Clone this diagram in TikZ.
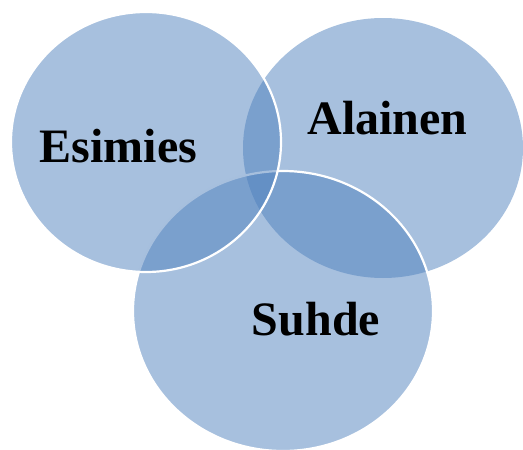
\documentclass[tikz,border=0pt]{standalone}
\usepackage{fontspec}
\setmainfont{Liberation Serif}
\definecolor{accent}{RGB}{79,129,189}
\begin{document}
\begin{tikzpicture}[x=1pt,y=-1pt,
  venn/.style={fill=accent,fill opacity=0.5,draw=white,line width=2.2pt},
  vennplain/.style={fill=accent,fill opacity=0.5,draw=none},
  lbl/.style={anchor=base,font=\fontsize{48}{48}\selectfont\bfseries,text=black,inner sep=0pt}]
\useasboundingbox (0,0) rectangle (523,450);
\path[vennplain] (383,148) ellipse [x radius=140, y radius=130];
\path[venn] (283,311) ellipse [x radius=150, y radius=140];
\path[venn] (146,142) ellipse [x radius=135, y radius=130];
\node[lbl] (esimies) at (118.5,162) {Esimies};
\node[lbl] (alainen) at (387.5,134) {Alainen};
\node[lbl] (suhde) at (316,335) {Suhde};
\end{tikzpicture}
\end{document}
